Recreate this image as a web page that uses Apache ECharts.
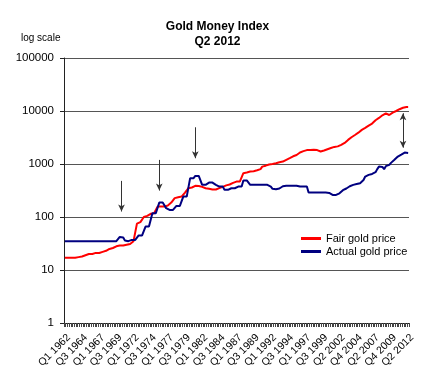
<!DOCTYPE html>
<html>
<head>
<meta charset="utf-8">
<script src="https://cdn.jsdelivr.net/npm/echarts@6/dist/echarts.min.js"></script>
<style>
html,body{margin:0;padding:0;background:#fff;}
#chart{width:435px;height:382px;}
</style>
</head>
<body>
<div id="chart"></div>
<script>
// Quarterly categories Q1 1962 .. Q2 2012 (source series has no Q4 2001 row)
const categories = [];
for (let y = 1962; y <= 2012; y++) {
  for (let q = 1; q <= 4; q++) {
    if (y === 2001 && q === 4) continue;
    if (y === 2012 && q > 2) break;
    categories.push('Q' + q + ' ' + y);
  }
}

const yTickValues = [1, 10, 100, 1000, 10000, 100000];

// Fair gold price (USD/oz, log scale)
const fairPrice = [
  17,17,17,17,  17,17,17,17,  17.5,18,18,18,  19,20,20,20,
  20,20,21,21,  21,21,22,22,  23,24,25,26,  26,27,28,29,
  29,29,29,30,  30,30,31,33,  35,37,75,78,  80,82,100,105,
  105,105,115,118,  118,118,157,157,  157,157,157,157,  165,170,187,187,
  227,227,235,243,  243,260,289,289,  349,349,360,370,  387,387,385,375,
  370,360,349,345,  340,335,330,330,  330,335,350,365,  370,380,395,404,
  410,420,440,455,  466,470,470,480,  670,680,690,700,  720,720,730,740,
  760,775,800,893,  900,930,962,980,  990,1000,1020,1035,  1050,1080,1100,1110,
  1150,1200,1250,1290,  1350,1400,1450,1480,  1550,1650,1700,1750,  1800,1830,1845,1845,
  1850,1850,1840,1830,  1750,1720,1760,1800,  1850,1900,1980,2000,  2050,2100,2130,
  2150,2200,2290,2350,  2500,2700,2850,3000,  3200,3400,3530,3700,  3900,4200,4400,4600,
  4800,5000,5300,5500,  5800,6200,6700,7000,  7400,7800,8300,8800,  9060,8500,8400,8800,
  9300,9700,10000,10500,  10800,11200,11500,11750,  11900,11900
];

// Actual gold price (USD/oz)
const actualPrice = [
  35,35,35,35,  35,35,35,35,  35,35,35,35,  35,35,35,35,
  35,35,35,35,  35,35,35,35,  35,35,35,35,  35,35,35,35,
  42,42,41,36,  35,35,37,37,  37,37,37,45,  45,45,45,66,
  66,66,66,118,  118,118,120,187,  187,187,187,147,  136,136,136,136,
  136,162,162,162,  162,243,243,243,  243,540,540,540,  596,596,596,596,
  404,404,404,420,  446,446,446,446,  404,375,375,375,  375,325,325,325,
  349,349,349,349,  375,375,375,375,  490,490,490,490,  404,404,404,404,
  404,404,404,404,  404,404,404,404,  375,340,335,335,  340,345,345,380,
  390,390,390,390,  390,390,390,390,  390,375,375,375,  375,375,289,289,
  289,289,289,289,  289,289,289,289,  289,289,285,280,  261,261,261,
  270,280,300,320,  330,345,360,380,  400,404,410,420,  430,435,460,500,
  580,600,623,630,  650,680,700,800,  893,893,880,800,  910,962,962,1050,
  1100,1200,1250,1380,  1400,1500,1550,1640,  1640,1620
];

// Annotation arrows: [category, fromValue, toValue, doubleHeaded]
const arrows = [
  ['Q2 1970', 480, 127, false],
  ['Q4 1975', 1195, 315, false],
  ['Q1 1981', 4930, 1285, false],
  ['Q3 2011', 9060, 2036, true]
];

const FONT = 'Liberation Sans, Arial, Helvetica, sans-serif';

const chart = echarts.init(document.getElementById('chart'), null, {renderer: 'canvas'});
chart.setOption({
  animation: false,
  backgroundColor: '#ffffff',
  title: [{
    text: 'Gold Money Index\nQ2 2012',
    left: 'center',
    top: 14,
    textStyle: {fontFamily: FONT, fontSize: 12, fontWeight: 'bold', color: '#000', lineHeight: 15}
  }, {
    text: 'log scale',
    left: 16,
    top: 28,
    textStyle: {fontFamily: FONT, fontSize: 10, fontWeight: 'normal', color: '#000'}
  }],
  legend: {
    orient: 'vertical',
    left: 296,
    top: 228,
    icon: 'rect',
    itemWidth: 20,
    itemHeight: 3,
    itemGap: 2,
    textStyle: {fontFamily: FONT, fontSize: 11, color: '#000'},
    data: ['Fair gold price', 'Actual gold price']
  },
  grid: {left: 64, right: 26, top: 58, bottom: 59, containLabel: false},
  xAxis: {
    type: 'category',
    data: categories,
    boundaryGap: true,
    axisLine: {show: true, lineStyle: {color: '#222', width: 1}},
    axisTick: {show: true, interval: 0, length: 4, lineStyle: {color: '#444'}},
    axisLabel: {
      interval: 9,
      rotate: 45,
      margin: 9,
      verticalAlign: 'top',
      fontFamily: FONT,
      fontSize: 10.5,
      color: '#000'
    },
    splitLine: {show: false}
  },
  yAxis: {
    type: 'log',
    logBase: 10,
    min: yTickValues[0],
    max: yTickValues[yTickValues.length - 1],
    splitNumber: 5,
    axisLine: {show: true, lineStyle: {color: '#222', width: 1}},
    axisTick: {show: true, length: 4, lineStyle: {color: '#222'}},
    axisLabel: {
      fontFamily: FONT,
      fontSize: 11.5,
      color: '#000',
      margin: 10,
      formatter: function (v) { return String(Math.round(v)); }
    },
    splitLine: {show: true, lineStyle: {color: '#555', width: 1}}
  },
  series: [{
    name: 'Fair gold price',
    type: 'line',
    data: fairPrice,
    symbol: 'none',
    color: '#ff0000',
    lineStyle: {color: '#ff0000', width: 2},
    markLine: {
      silent: true,
      symbol: ['none', 'arrow'],
      symbolSize: [5, 7],
      label: {show: false},
      lineStyle: {color: '#333', width: 1, type: 'solid'},
      data: arrows.map(a => {
        const item = [{coord: [a[0], a[1]]}, {coord: [a[0], a[2]]}];
        if (a[3]) { item[0].symbol = 'arrow'; }
        return item;
      })
    }
  }, {
    name: 'Actual gold price',
    type: 'line',
    data: actualPrice,
    symbol: 'none',
    color: '#000080',
    lineStyle: {color: '#000080', width: 2}
  }]
});
</script>
</body>
</html>
